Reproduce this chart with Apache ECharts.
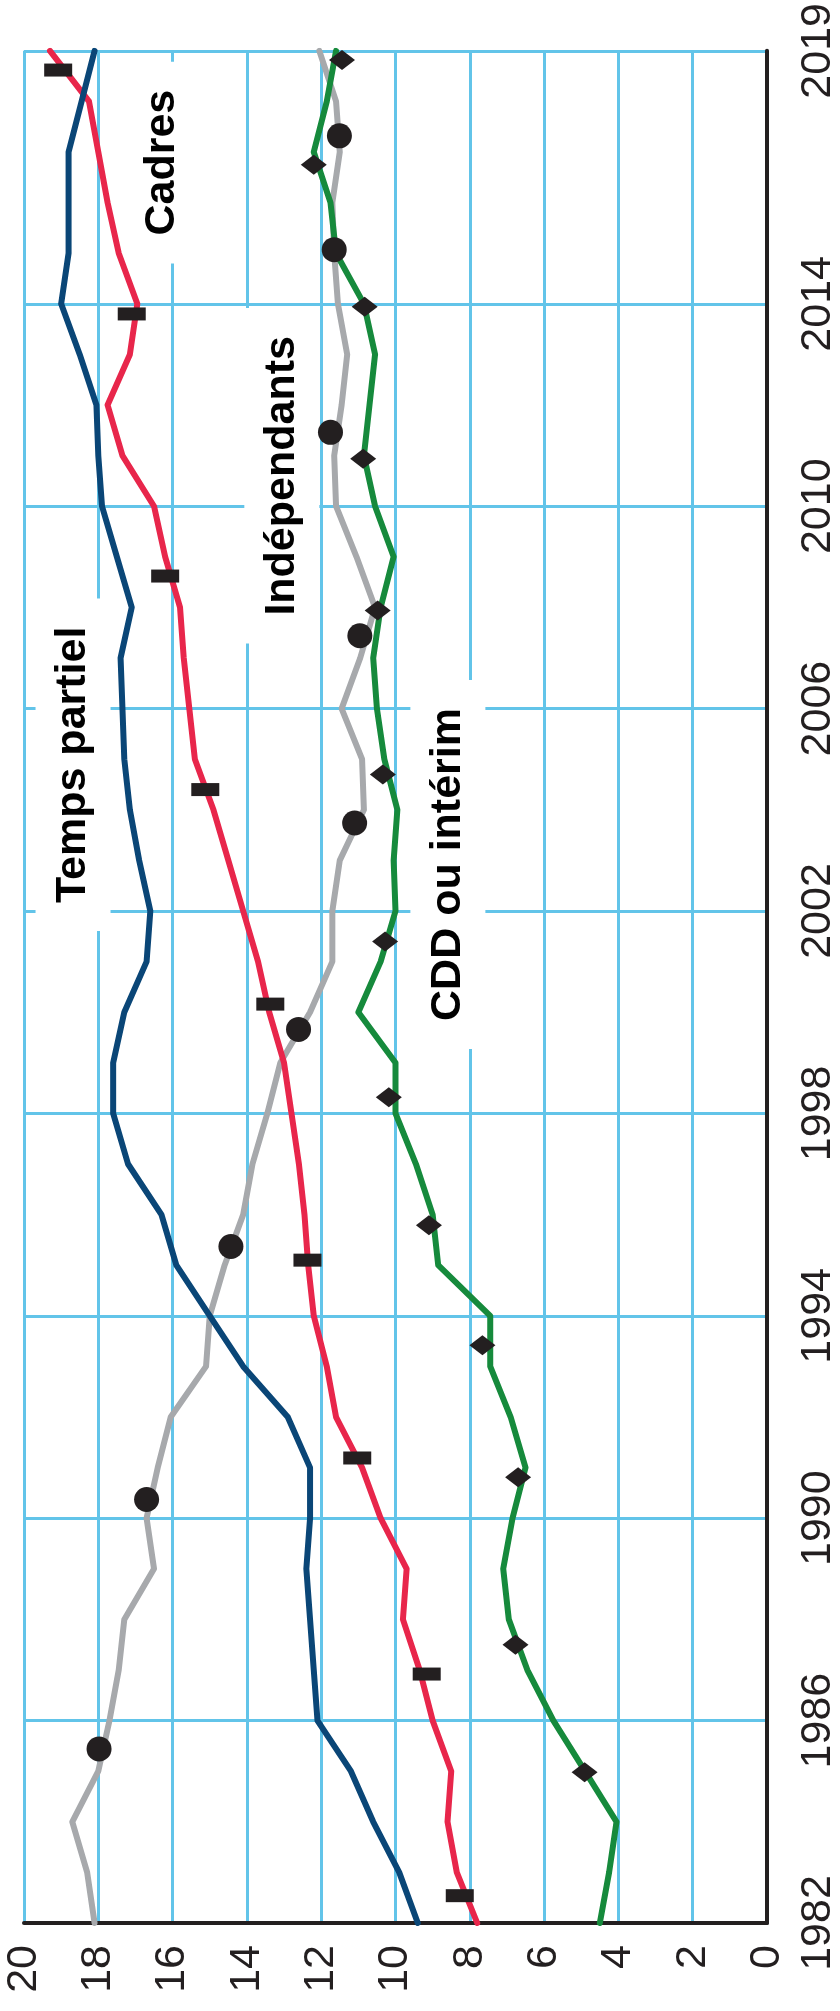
<!DOCTYPE html>
<html>
<head>
<meta charset="utf-8">
<script src="https://cdn.jsdelivr.net/npm/echarts@6/dist/echarts.min.js"></script>
<style>
  html, body { margin: 0; padding: 0; background: #ffffff; }
  #chart { width: 840px; height: 2011px; }
</style>
</head>
<body>
<div id="chart"></div>
<script>
// Share of employment (%) by status, 1982–2019
const years = [1982, 1983, 1984, 1985, 1986, 1987, 1988, 1989, 1990, 1991,
               1992, 1993, 1994, 1995, 1996, 1997, 1998, 1999, 2000, 2001,
               2002, 2003, 2004, 2005, 2006, 2007, 2008, 2009, 2010, 2011,
               2012, 2013, 2014, 2015, 2016, 2017, 2018, 2019];

const tempsPartiel = [9.4, 9.9, 10.6, 11.2, 12.1, 12.2, 12.3, 12.4, 12.3, 12.3,
                      12.9, 14.1, 15.0, 15.9, 16.3, 17.2, 17.6, 17.6, 17.3, 16.7,
                      16.6, 16.9, 17.15, 17.3, 17.35, 17.4, 17.1, 17.5, 17.9, 18.0,
                      18.05, 18.5, 19.0, 18.8, 18.8, 18.8, 18.45, 18.1];

const cadres = [7.8, 8.35, 8.6, 8.5, 9.0, 9.35, 9.8, 9.7, 10.4, 10.9,
                11.6, 11.85, 12.2, 12.35, 12.45, 12.6, 12.8, 13.0, 13.4, 13.7,
                14.1, 14.5, 14.9, 15.4, 15.55, 15.7, 15.8, 16.2, 16.5, 17.35,
                17.75, 17.15, 16.95, 17.45, 17.75, 18.0, 18.25, 19.3];

const independants = [18.1, 18.3, 18.7, 18.0, 17.7, 17.45, 17.3, 16.5, 16.7, 16.4,
                      16.05, 15.1, 15.0, 14.6, 14.1, 13.85, 13.45, 13.1, 12.3, 11.7,
                      11.7, 11.5, 10.85, 10.9, 11.45, 10.95, 10.55, 11.05, 11.6, 11.65,
                      11.45, 11.3, 11.55, 11.65, 11.7, 11.5, 11.6, 12.05];

const cddInterim = [4.5, 4.25, 4.05, 4.9, 5.75, 6.45, 6.95, 7.1, 6.85, 6.5,
                    6.9, 7.45, 7.45, 8.85, 9.0, 9.45, 10.0, 10.0, 11.0, 10.4,
                    10.0, 10.05, 9.95, 10.3, 10.5, 10.6, 10.4, 10.05, 10.55, 10.85,
                    10.7, 10.55, 10.85, 11.6, 11.75, 12.2, 11.85, 11.6];

// Marker positions along each curve: [year, value]
const cadresMarkers = [[1982.54, 8.27], [1986.92, 9.16], [1991.19, 11.03], [1995.1, 12.37],
                       [2000.16, 13.37], [2004.4, 15.12], [2008.62, 16.2], [2013.8, 17.1],
                       [2018.62, 19.08]];
const independantsMarkers = [[1985.44, 17.98], [1990.37, 16.7], [1995.37, 14.43], [1999.66, 12.61],
                             [2003.74, 11.1], [2007.44, 10.96], [2011.46, 11.75], [2015.07, 11.65],
                             [2017.32, 11.51]];
const cddMarkers = [[1984.98, 4.91], [1987.5, 6.77], [1990.81, 6.7], [1993.42, 7.66],
                    [1995.79, 9.1], [1998.32, 10.18], [2001.4, 10.28], [2004.7, 10.34],
                    [2007.94, 10.48], [2010.94, 10.87], [2013.94, 10.83], [2016.75, 12.2],
                    [2018.82, 11.44]];

// Axis ticks
const yearTicks = [1982, 1986, 1990, 1994, 1998, 2002, 2006, 2010, 2014, 2019];
const valueTicks = [0, 2, 4, 6, 8, 10, 12, 14, 16, 18, 20];

// Curve names, anchored in data space: [year, value]
const curveNames = [
  { text: 'Cadres', at: [2016.79, 16.29] },
  { text: 'Indépendants', at: [2010.6, 13.06] },
  { text: 'Temps partiel', at: [2004.89, 18.68] },
  { text: 'CDD ou intérim', at: [2002.92, 8.59] }
];

const FONT = '"Liberation Sans", Arial, Helvetica, sans-serif';
const INK = '#231f20';
const GRID = '#62c4e9';

const toPairs = (vals) => vals.map((v, i) => [v, years[i]]);
const markerPairs = (list) => list.map(([y, v]) => [v, y]);

const lineSeries = (name, vals, color, width) => ({
  name, type: 'line', data: toPairs(vals),
  showSymbol: false, symbol: 'none', silent: true, z: 3,
  lineStyle: { color, width, join: 'round', cap: 'round', opacity: 1 }
});

const markerSeries = (list, symbol, size) => ({
  type: 'scatter', data: markerPairs(list), symbol, symbolSize: size,
  silent: true, z: 5, itemStyle: { color: INK, opacity: 1 }
});

const chart = echarts.init(document.getElementById('chart'), null, { renderer: 'canvas' });

chart.setOption({
  animation: false,
  backgroundColor: '#ffffff',
  grid: { left: 24, right: 73, top: 44, bottom: 88 },
  xAxis: {
    type: 'value', min: valueTicks[0], max: valueTicks[valueTicks.length - 1],
    interval: valueTicks[1] - valueTicks[0], inverse: true, position: 'bottom',
    axisLine: { show: true, onZero: false, lineStyle: { color: INK, width: 4 } },
    axisTick: { show: false },
    splitLine: { show: true, lineStyle: { color: GRID, width: 3 } },
    axisLabel: { rotate: 90, fontSize: 43, color: INK, margin: 22, fontFamily: FONT,
                 formatter: (v) => String(v) }
  },
  yAxis: {
    type: 'value', min: yearTicks[0], max: yearTicks[yearTicks.length - 1],
    position: 'right',
    axisLine: { show: true, onZero: false, lineStyle: { color: INK, width: 4 } },
    axisTick: { show: false, customValues: yearTicks },
    splitLine: { show: true, lineStyle: { color: GRID, width: 3 } },
    axisLabel: { customValues: yearTicks, rotate: 90, fontSize: 43, color: INK,
                 margin: 30, fontFamily: FONT, formatter: (v) => String(v) }
  },
  series: [
    {
      type: 'scatter', silent: true, z: 1, symbolSize: 0,
      itemStyle: { opacity: 1 },
      data: curveNames.map(c => ({ value: [c.at[1], c.at[0]], name: c.text })),
      label: {
        show: true, position: 'inside', rotate: 90, formatter: '{b}',
        fontSize: 43, fontWeight: 'bold', color: '#000000', fontFamily: FONT,
        backgroundColor: '#ffffff', padding: [16, 28]
      }
    },
    lineSeries('Indépendants', independants, '#a7a9ac', 6),
    lineSeries('CDD ou intérim', cddInterim, '#168a3c', 6),
    lineSeries('Cadres', cadres, '#e8264b', 6),
    lineSeries('Temps partiel', tempsPartiel, '#0a4677', 6),
    markerSeries(cadresMarkers, 'rect', [28, 13]),
    markerSeries(independantsMarkers, 'circle', 25),
    markerSeries(cddMarkers, 'diamond', [26, 20])
  ]
});
</script>
</body>
</html>
